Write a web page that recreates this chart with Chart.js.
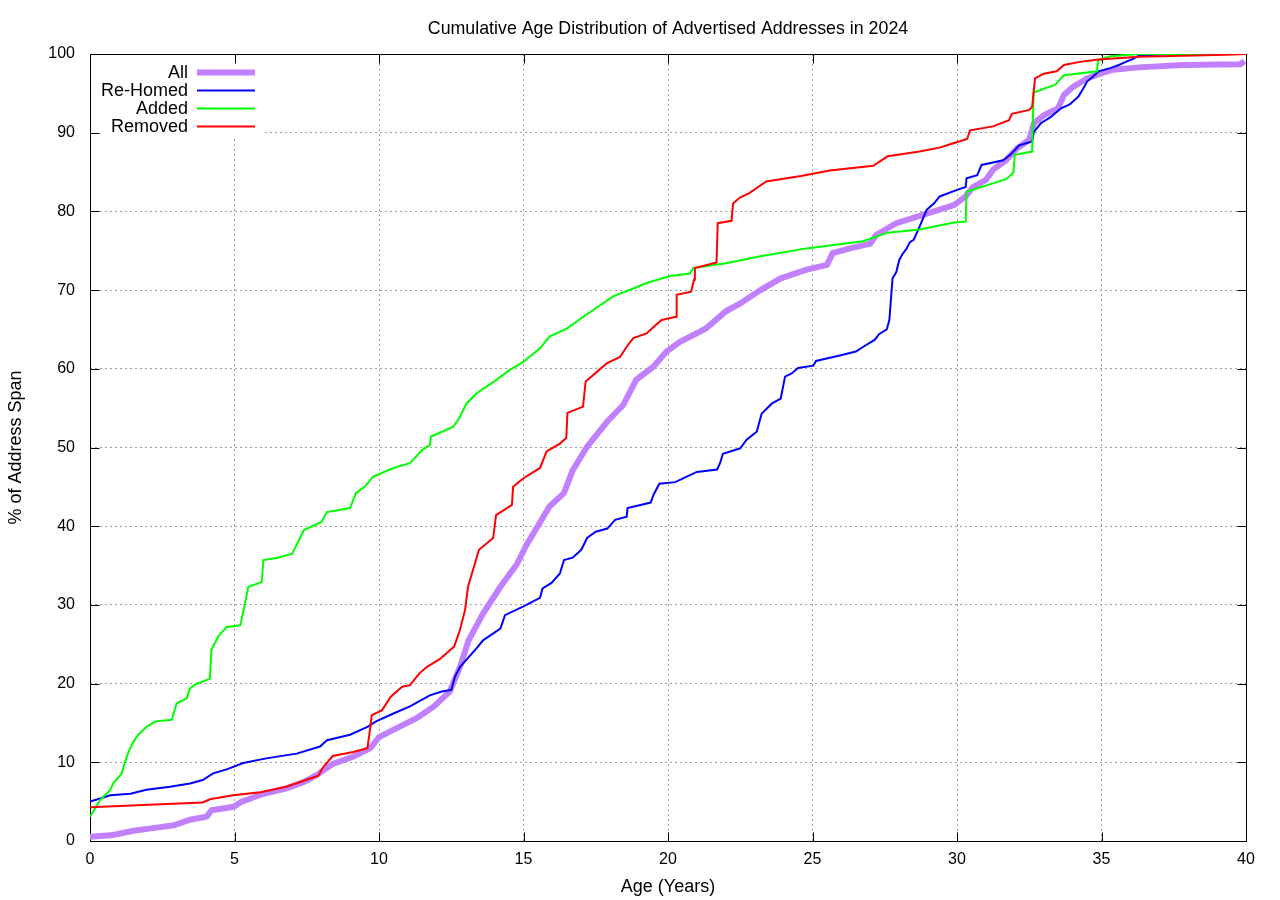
<!DOCTYPE html>
<html>
<head>
<meta charset="utf-8">
<title>Cumulative Age Distribution of Advertised Addresses in 2024</title>
<script src="https://cdn.jsdelivr.net/npm/chart.js@4.4.1/dist/chart.umd.min.js"></script>
<style>
  html, body { margin: 0; padding: 0; background: #fff; }
  #wrap { width: 1280px; height: 900px; }
</style>
</head>
<body>
<div id="wrap"><canvas id="chart" width="1280" height="900"></canvas></div>
<script>
// axis ticks
const xTicks = [0, 5, 10, 15, 20, 25, 30, 35, 40];
const yTicks = [0, 10, 20, 30, 40, 50, 60, 70, 80, 90, 100];

// All (age in years / % of address span)
const allAge = [0, 0.8, 1.5, 2.3, 2.9, 3.46, 4.04, 4.2, 4.96, 5.25, 6.0, 6.8, 7.4, 7.85, 8.4, 9.1, 9.7, 10.0, 10.7, 11.3, 11.9, 12.45, 12.8, 13.1, 13.6, 14.2, 14.76, 15.1, 15.9, 16.4, 16.7, 17.2, 17.9, 18.45, 18.9, 19.5, 19.95, 20.4, 21.3, 22.0, 22.5, 23.2, 23.9, 24.8, 25.5, 25.7, 26.3, 27.0, 27.2, 27.9, 28.6, 29.2, 29.9, 30.3, 30.55, 31.0, 31.25, 31.7, 32.07, 32.5, 32.66, 33.0, 33.5, 33.7, 34.0, 34.5, 34.95, 35.4, 36.3, 37.8, 39.8, 39.95];
const allPct = [0.55, 0.76, 1.3, 1.7, 2.0, 2.7, 3.1, 3.9, 4.35, 5.0, 6.0, 6.7, 7.5, 8.4, 9.8, 10.7, 11.8, 13.2, 14.5, 15.6, 17.1, 19, 22.1, 25.5, 28.9, 32.3, 35.1, 37.6, 42.5, 44.2, 47.1, 50.1, 53.3, 55.4, 58.6, 60.3, 62.2, 63.4, 65.1, 67.3, 68.3, 70, 71.5, 72.6, 73.2, 74.7, 75.3, 75.9, 77, 78.5, 79.3, 80, 80.8, 81.9, 83.1, 84, 85.3, 86.5, 88, 89.1, 91.2, 92.2, 93.1, 94.8, 95.8, 96.9, 97.5, 98, 98.3, 98.6, 98.7, 99.1];

// Re-Homed
const rehomedAge = [0, 0.35, 0.7, 1.4, 1.95, 2.77, 3.46, 3.9, 4.26, 4.73, 5.3, 6.1, 7.15, 7.96, 8.2, 9.0, 9.6, 9.9, 10.5, 11.07, 11.76, 12.17, 12.5, 12.63, 12.8, 13.38, 13.6, 14.2, 14.36, 15.0, 15.57, 15.66, 15.97, 16.26, 16.4, 16.7, 17.0, 17.2, 17.5, 17.9, 18.17, 18.57, 18.6, 19.4, 19.5, 19.7, 20.25, 20.76, 21.0, 21.7, 21.8, 21.9, 22.15, 22.5, 22.72, 23.07, 23.24, 23.6, 23.9, 24.05, 24.28, 24.5, 25.03, 25.12, 25.6, 25.95, 26.5, 26.8, 27.16, 27.3, 27.57, 27.66, 27.77, 27.9, 28.0, 28.1, 28.26, 28.37, 28.5, 28.65, 28.8, 28.95, 29.2, 29.4, 29.98, 30.3, 30.33, 30.7, 30.85, 31.6, 31.9, 32.15, 32.6, 32.66, 32.9, 33.25, 33.6, 33.9, 34.2, 34.4, 34.5, 34.7, 34.9, 35.3, 35.6, 35.9, 36.1, 36.3, 37.4, 40];
const rehomedPct = [5.0, 5.4, 5.8, 6.0, 6.5, 6.9, 7.3, 7.75, 8.6, 9.1, 9.9, 10.5, 11.1, 12, 12.8, 13.5, 14.5, 15.2, 16.2, 17.1, 18.5, 19, 19.2, 20.9, 22.1, 24.5, 25.5, 27, 28.7, 29.8, 30.9, 32.1, 32.8, 34, 35.7, 36, 37, 38.5, 39.3, 39.7, 40.8, 41.2, 42.3, 43, 44, 45.4, 45.6, 46.5, 46.9, 47.2, 48, 49.2, 49.5, 49.9, 51, 52, 54.3, 55.6, 56.2, 59, 59.4, 60.1, 60.4, 61, 61.4, 61.7, 62.2, 62.9, 63.7, 64.4, 65, 66.2, 71.5, 72.3, 73.8, 74.5, 75.3, 76.1, 76.4, 77.6, 78.9, 80.2, 81, 81.9, 82.7, 83.1, 84.2, 84.6, 85.9, 86.5, 87.4, 88.4, 88.9, 90.1, 91.2, 92, 93.1, 93.6, 94.6, 95.8, 96.5, 97.1, 97.8, 98.2, 98.6, 99.1, 99.4, 99.8, 100, 100];

// Added
const addedAge = [0, 0.35, 0.7, 0.8, 1.1, 1.2, 1.33, 1.5, 1.67, 1.96, 2.25, 2.83, 3.0, 3.34, 3.46, 3.69, 4.15, 4.2, 4.44, 4.73, 5.2, 5.3, 5.48, 5.94, 6.0, 6.5, 7.0, 7.2, 7.4, 8.0, 8.2, 9.0, 9.2, 9.5, 9.8, 10.5, 11.07, 11.5, 11.76, 11.8, 12.56, 12.74, 13.03, 13.38, 13.95, 14.5, 15.0, 15.57, 15.9, 16.5, 16.95, 17.5, 18.1, 18.8, 19.26, 20.07, 20.76, 20.87, 22.0, 23.2, 24.8, 26.75, 27.6, 28.7, 29.9, 30.3, 30.33, 31.7, 31.95, 32.0, 32.6, 32.65, 33.4, 33.7, 34.85, 34.88, 35.3, 36.3, 40];
const addedPct = [3.1, 5.2, 6.5, 7.3, 8.6, 9.9, 11.3, 12.6, 13.5, 14.5, 15.2, 15.4, 17.5, 18.1, 19.4, 20, 20.6, 24.3, 26, 27.2, 27.4, 29.1, 32.3, 32.9, 35.7, 36, 36.5, 38, 39.5, 40.5, 41.8, 42.3, 44.2, 45, 46.3, 47.4, 48, 49.7, 50.3, 51.4, 52.6, 53.5, 55.6, 56.9, 58.3, 59.8, 60.9, 62.6, 64.1, 65.1, 66.3, 67.7, 69.2, 70.2, 70.9, 71.8, 72.1, 72.8, 73.4, 74.3, 75.3, 76.2, 77.3, 77.7, 78.6, 78.7, 82.5, 84.1, 84.9, 87.2, 87.6, 95.1, 96.1, 97.3, 97.8, 99.2, 99.7, 100, 100];

// Removed
const removedAge = [0, 3.9, 4.15, 4.95, 5.9, 6.8, 7.27, 7.9, 8.07, 8.4, 9.1, 9.6, 9.7, 9.75, 10.1, 10.4, 10.8, 11.07, 11.4, 11.65, 12.1, 12.6, 12.8, 12.98, 13.08, 13.25, 13.46, 13.95, 14.05, 14.6, 14.64, 15.0, 15.57, 15.8, 16.26, 16.48, 16.52, 17.06, 17.15, 17.6, 17.88, 18.34, 18.57, 18.8, 19.26, 19.5, 19.78, 20.28, 20.3, 20.8, 20.9, 20.93, 21.68, 21.72, 22.2, 22.25, 22.5, 22.8, 23.4, 24.6, 25.6, 27.1, 27.6, 28.7, 29.4, 29.9, 30.35, 30.45, 31.25, 31.8, 31.9, 32.5, 32.6, 32.7, 33.0, 33.45, 33.7, 34.25, 34.9, 36.3, 39.3, 40];
const removedPct = [4.3, 4.9, 5.3, 5.8, 6.2, 6.9, 7.5, 8.3, 9.4, 10.8, 11.3, 11.8, 14.5, 16, 16.6, 18.3, 19.6, 19.8, 21.3, 22.1, 23.1, 24.7, 26.8, 29.4, 32.3, 34.4, 37, 38.5, 41.4, 42.7, 45, 46.1, 47.4, 49.5, 50.5, 51.2, 54.4, 55.2, 58.4, 59.8, 60.7, 61.5, 62.8, 63.9, 64.5, 65.3, 66.2, 66.6, 69.4, 69.8, 71.3, 72.8, 73.5, 78.5, 78.8, 81, 81.8, 82.3, 83.8, 84.5, 85.2, 85.8, 87, 87.6, 88.1, 88.7, 89.2, 90.3, 90.8, 91.6, 92.4, 92.9, 93.3, 96.9, 97.5, 97.8, 98.6, 99, 99.3, 99.65, 99.9, 100];

const FONT = '"Liberation Sans", Arial, Helvetica, sans-serif';

function pts(xs, ys) {
    return xs.map((x, i) => ({ x, y: ys[i] }));
}

// gnuplot look: frame with inward ticks (under the lines), white key box, key
const framePlugin = {
    id: 'frame',
    beforeDatasetsDraw(chart) {
        const { ctx, chartArea: a, scales } = chart;
        ctx.save();
        ctx.fillStyle = '#fff';
        ctx.fillRect(a.left, a.top, 172, 82);

        const L = Math.round(a.left) + 0.5, R = Math.round(a.right) + 0.5;
        const T = Math.round(a.top) + 0.5, B = Math.round(a.bottom) + 0.5;
        ctx.strokeStyle = '#000';
        ctx.lineWidth = 1;
        ctx.beginPath();
        ctx.rect(L, T, R - L, B - T);
        xTicks.forEach(v => {
            const px = Math.round(scales.x.getPixelForValue(v)) + 0.5;
            ctx.moveTo(px, B); ctx.lineTo(px, B - 9);
            ctx.moveTo(px, T); ctx.lineTo(px, T + 9);
        });
        yTicks.forEach(v => {
            const py = Math.round(scales.y.getPixelForValue(v)) + 0.5;
            ctx.moveTo(L, py); ctx.lineTo(L + 9, py);
            ctx.moveTo(R, py); ctx.lineTo(R - 9, py);
        });
        ctx.stroke();

        ctx.font = '18px ' + FONT;
        ctx.textAlign = 'right';
        ctx.textBaseline = 'middle';
        chart.data.datasets.forEach((ds, i) => {
            const ly = a.top + 18.5 + i * 18;
            ctx.fillStyle = '#000';
            ctx.fillText(ds.label, a.left + 98, ly + 1);
            ctx.strokeStyle = ds.borderColor;
            ctx.lineWidth = ds.borderWidth;
            ctx.beginPath();
            ctx.moveTo(a.left + 107, ly);
            ctx.lineTo(a.left + 165, ly);
            ctx.stroke();
        });
        ctx.restore();
    }
};

const ctx = document.getElementById('chart').getContext('2d');
new Chart(ctx, {
    type: 'line',
    data: {
        datasets: [
            { label: 'All', data: pts(allAge, allPct), borderColor: '#c080ff', borderWidth: 6, order: 3 },
            { label: 'Re-Homed', data: pts(rehomedAge, rehomedPct), borderColor: '#0000ff', borderWidth: 2, order: 2 },
            { label: 'Added', data: pts(addedAge, addedPct), borderColor: '#00ff00', borderWidth: 2, order: 1 },
            { label: 'Removed', data: pts(removedAge, removedPct), borderColor: '#ff0000', borderWidth: 2, order: 0 },
        ],
    },
    options: {
        responsive: false,
        animation: false,
        events: [],
        layout: { padding: { left: 0, right: 34, top: 0, bottom: 0 } },
        elements: { point: { radius: 0 }, line: { tension: 0, fill: false } },
        plugins: {
            legend: { display: false },
            tooltip: { enabled: false },
            title: {
                display: true,
                fullSize: false,
                text: 'Cumulative Age Distribution of Advertised Addresses in 2024',
                color: '#000',
                font: { family: FONT, size: 17.8, weight: 'normal' },
                padding: { top: 18.3, bottom: 14.34 },
            },
        },
        scales: {
            x: {
                type: 'linear', min: 0, max: 40,
                afterBuildTicks: s => { s.ticks = xTicks.map(v => ({ value: v })); },
                afterFit: s => { s.height = 59; },
                ticks: { color: '#000', padding: 9, maxRotation: 0, font: { family: FONT, size: 16 } },
                grid: { color: '#a0a0a0', lineWidth: 1, drawTicks: false },
                border: { display: false, dash: [2, 3] },
                title: { display: true, text: 'Age (Years)', color: '#000', font: { family: FONT, size: 18 }, padding: { top: 0, bottom: 2 } },
            },
            y: {
                type: 'linear', min: 0, max: 100,
                afterBuildTicks: s => { s.ticks = yTicks.map(v => ({ value: v })); },
                afterFit: s => { s.width = 90; },
                ticks: { color: '#000', padding: 15, font: { family: FONT, size: 16 } },
                grid: { color: '#a0a0a0', lineWidth: 1, drawTicks: false },
                border: { display: false, dash: [2, 3] },
                title: { display: true, text: '% of Address Span', color: '#000', font: { family: FONT, size: 18 }, padding: { top: 5.2, bottom: 0 } },
            },
        },
    },
    plugins: [framePlugin],
});
</script>
</body>
</html>
